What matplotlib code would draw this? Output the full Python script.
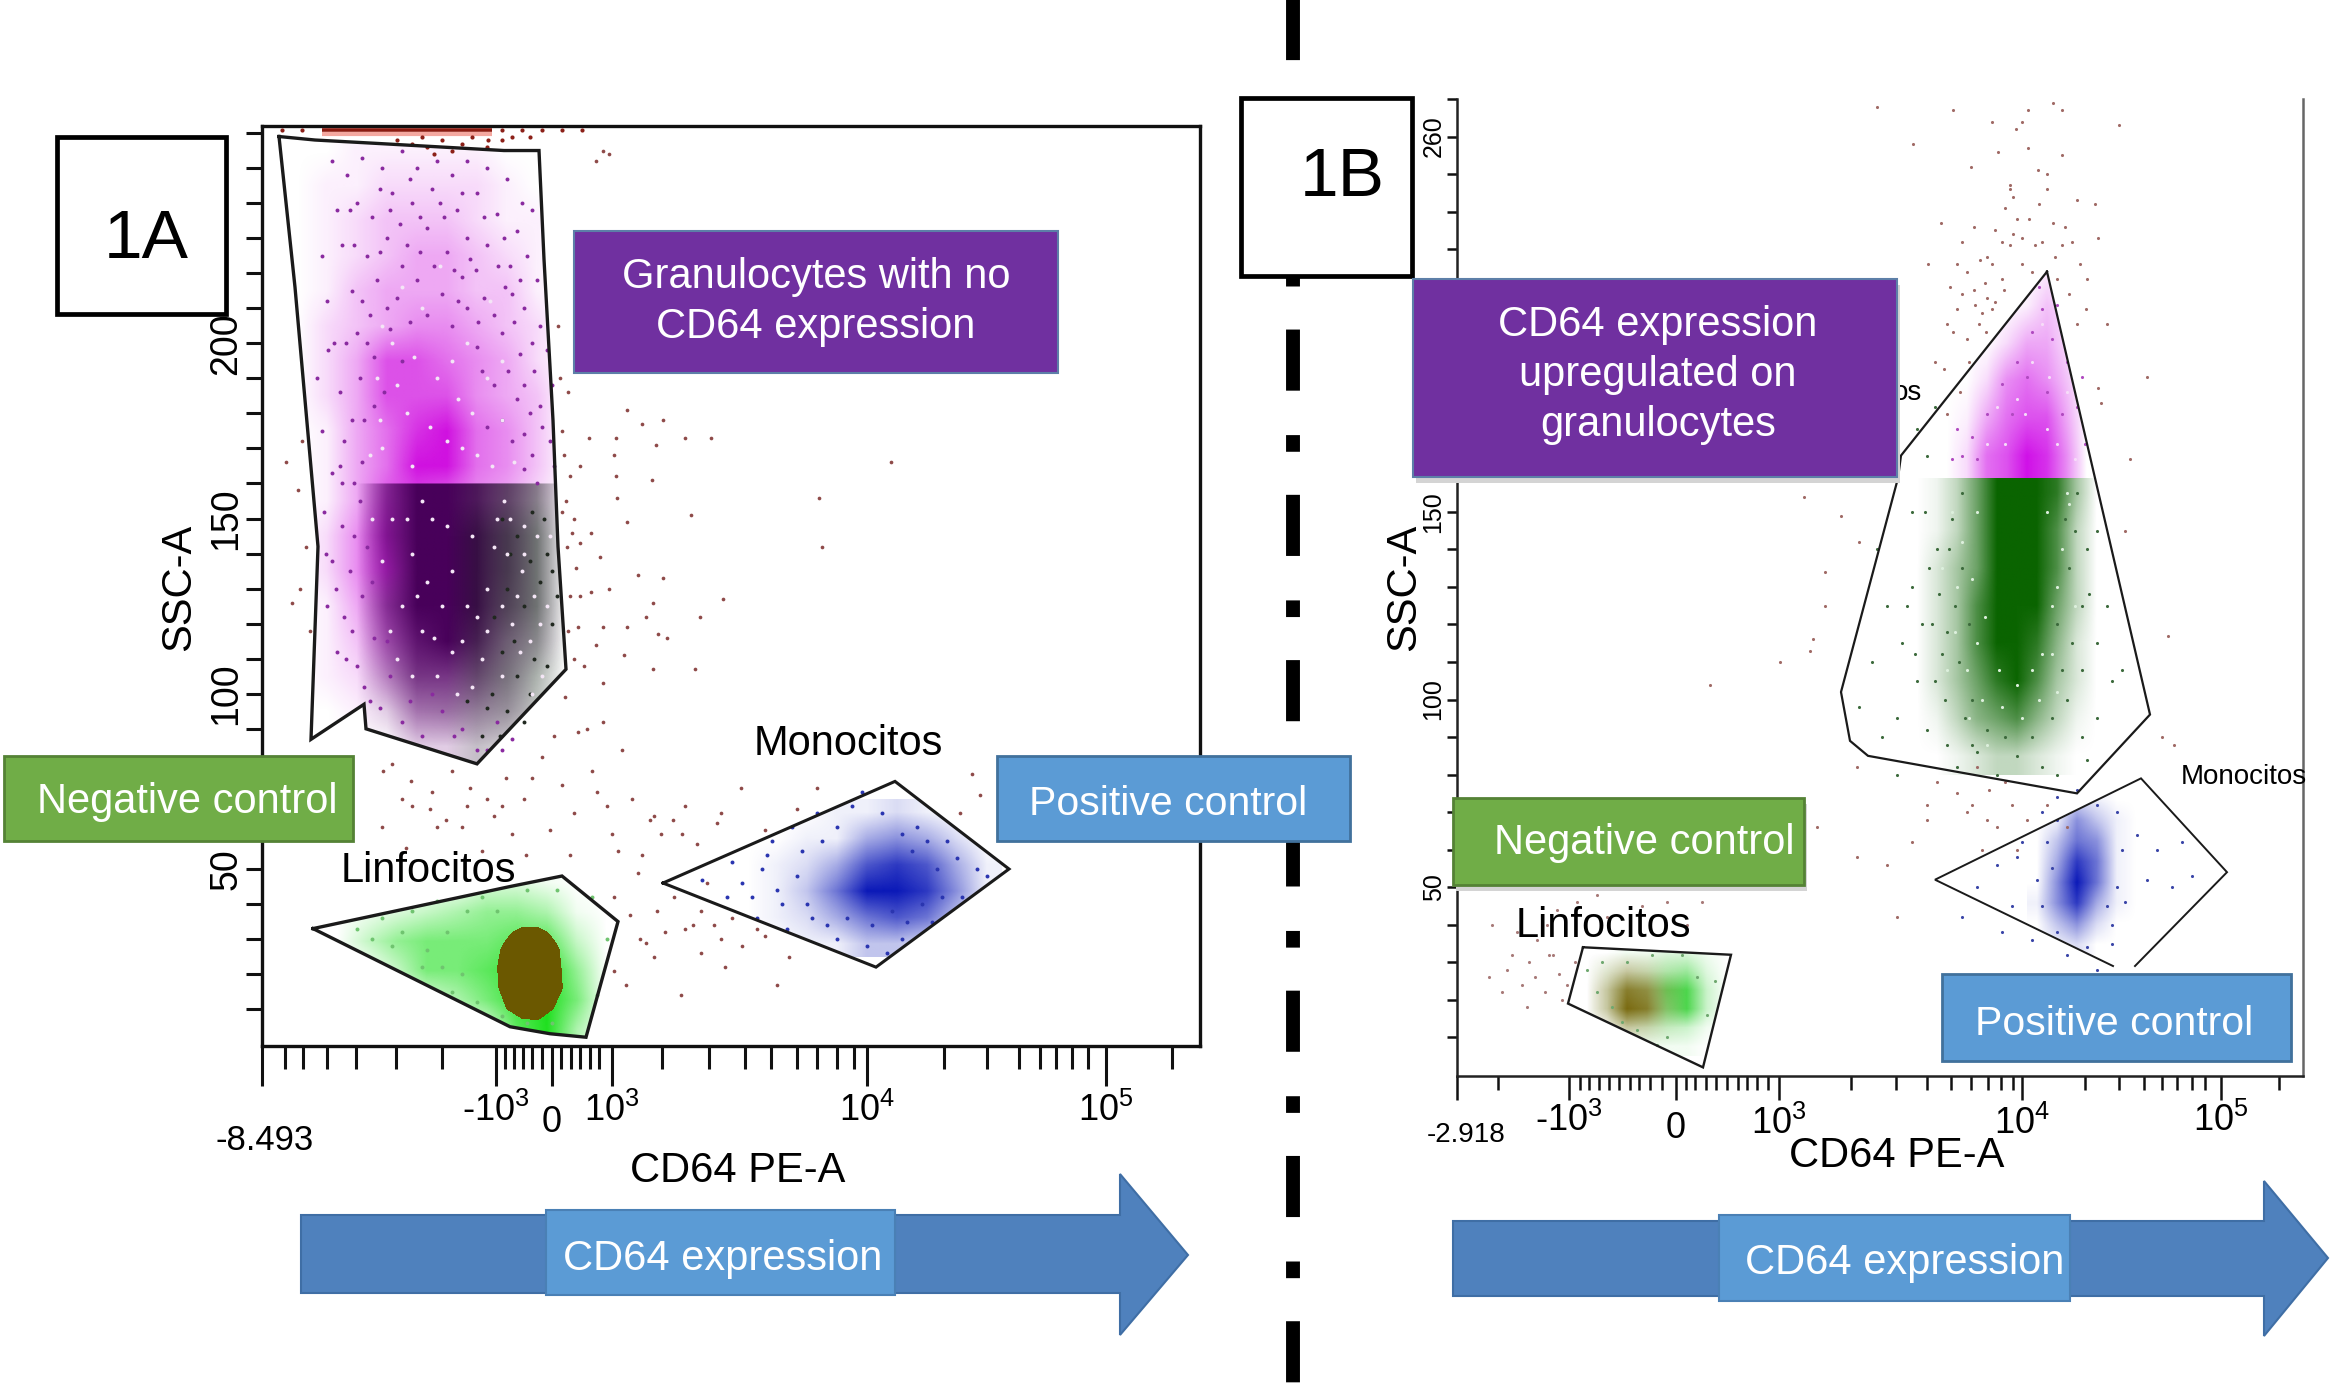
import numpy as np
import matplotlib
matplotlib.use("Agg")
import matplotlib.pyplot as plt
from matplotlib.colors import to_rgb
from matplotlib.patches import Rectangle, Polygon
from matplotlib.lines import Line2D
from matplotlib.transforms import ScaledTranslation

plt.rcParams['font.family'] = ['Liberation Sans', 'DejaVu Sans']
plt.rcParams['mathtext.default'] = 'regular'
plt.rcParams['lines.scale_dashes'] = False

W, H = 2334, 1391
# x is the biexponential display channel, y is SSC-A
a_xmajor = [0, 234, 290, 350, 605, 844]
a_xlabels = ['-8.493', '-$10^3$', '0', '$10^3$', '$10^4$', '$10^5$']
a_xminor = [23, 41, 65, 94, 134, 180, 243, 252, 261, 270, 280, 299, 309, 318, 328, 337, 400, 447, 483, 509,
            535, 555, 575, 592, 682, 725, 757, 778, 794, 810, 826, 910]
a_ylabels = ['50', '100', '150', '200']
a_ymajor = [50, 100, 150, 200]
b_xmajor = [0, 112, 219, 322, 565, 764]
b_xlabels = ['-2.918', '-$10^3$', '0', '$10^3$', '$10^4$', '$10^5$']
b_xminor = [41, 123, 132, 142, 152, 162, 173, 182, 193, 205, 229, 238, 249, 259, 270, 281, 290, 300, 311, 394,
            439, 470, 494, 514, 531, 544, 556, 628, 662, 687, 705, 720, 735, 748, 822]
b_ylabels = ['50', '100', '150', '260']
b_ymajor = [50, 100, 150, 250]
y_minor = [10, 20, 30, 40, 60, 70, 80, 90, 110, 120, 130, 140, 160, 170, 180, 190, 210, 220, 230, 240, 250, 260]

# gates
a_gate_gran = [(17, 259), (53, 258), (117, 257), (242, 255), (277, 255), (282, 224), (291, 178), (296, 142),
               (304, 107), (215, 80), (104, 90), (102, 97), (49, 87), (56, 142), (33, 216)]
a_gate_low = [(50, 160), (293, 160), (296, 142), (304, 107), (215, 80), (104, 90), (102, 97), (49, 87), (56, 142)]
a_gate_lymph = [(51, 33), (248, 45), (300, 48), (356, 35), (324, 2), (288, 3), (248, 5)]
a_gate_mono = [(401, 46), (633, 75), (747, 50), (614, 22)]
b_gate_gran = [(590, 214), (693, 96), (620, 75), (411, 85), (393, 89), (384, 102), (441, 159), (444, 165)]
b_gate_upper = [(444, 165), (590, 214), (638, 159), (441, 159)]
b_gate_lymph = [(126, 34), (274, 32), (246, 2), (111, 19)]
b_gate_mono = [(656, 29), (478, 52), (684, 79), (770, 54), (678, 29)]
a_top_band = (60, 230)

# estimated event density, 0-9, top row first
a_magenta = [[0, 0, 1, 1, 1, 1, 1, 0, 0, 0],
             [0, 1, 1, 2, 2, 2, 2, 1, 0, 0],
             [0, 1, 2, 3, 3, 3, 2, 1, 1, 0],
             [0, 1, 2, 3, 4, 4, 3, 2, 1, 0],
             [0, 1, 3, 4, 4, 4, 3, 3, 1, 0],
             [0, 2, 3, 4, 5, 5, 4, 3, 2, 0],
             [0, 2, 4, 7, 7, 6, 5, 4, 2, 0],
             [0, 2, 4, 7, 7, 7, 5, 4, 3, 0],
             [0, 1, 4, 6, 8, 9, 6, 5, 3, 0],
             [0, 1, 4, 6, 9, 9, 6, 5, 3, 0],
             [0, 1, 4, 7, 7, 6, 5, 4, 2, 0],
             [0, 2, 5, 8, 7, 5, 4, 3, 1, 0],
             [0, 2, 5, 8, 7, 5, 4, 3, 1, 0],
             [0, 1, 4, 6, 6, 5, 4, 3, 1, 0],
             [0, 1, 3, 5, 5, 4, 3, 2, 1, 0],
             [0, 1, 2, 3, 3, 3, 2, 1, 0, 0],
             [0, 0, 1, 1, 2, 2, 1, 1, 0, 0],
             [0, 0, 0, 0, 1, 1, 0, 0, 0, 0]]
a_dark = [[0, 6, 9, 9, 8, 5, 1, 0],
          [0, 6, 9, 9, 9, 6, 1, 0],
          [0, 5, 9, 9, 9, 6, 1, 0],
          [0, 6, 9, 9, 9, 5, 1, 0],
          [0, 5, 8, 9, 8, 4, 1, 0],
          [0, 4, 7, 7, 6, 3, 0, 0],
          [0, 2, 5, 5, 4, 2, 0, 0],
          [0, 0, 2, 2, 2, 1, 0, 0]]
a_black = [[0, 0, 0, 3, 5, 5, 0],
           [0, 0, 0, 4, 6, 6, 0],
           [0, 0, 0, 4, 6, 6, 0],
           [0, 0, 0, 4, 6, 6, 0],
           [0, 0, 0, 4, 5, 5, 0],
           [0, 0, 0, 4, 5, 4, 0],
           [0, 0, 1, 3, 4, 3, 0],
           [0, 0, 0, 2, 2, 1, 0]]
a_green = [[0, 0, 0, 0, 0, 0, 2, 2, 1, 0, 0],
           [0, 0, 1, 2, 3, 4, 5, 5, 4, 1, 0],
           [0, 0, 3, 5, 6, 6, 6, 7, 7, 3, 0],
           [0, 0, 0, 3, 6, 6, 7, 8, 9, 5, 0],
           [0, 0, 0, 0, 2, 4, 6, 8, 9, 6, 0],
           [0, 0, 0, 0, 0, 0, 2, 7, 9, 4, 0]]
a_core = [[0, 0, 0, 0, 0, 0],
          [0, 2, 5, 5, 2, 0],
          [0, 5, 9, 9, 5, 0],
          [1, 6, 9, 9, 6, 0],
          [0, 6, 9, 9, 6, 1],
          [0, 3, 7, 7, 3, 0],
          [0, 0, 0, 1, 0, 0]]
a_blue = [[0, 0, 0, 1, 1, 2, 1, 0, 0],
          [0, 0, 1, 1, 4, 5, 4, 2, 0],
          [0, 1, 2, 4, 7, 8, 7, 4, 1],
          [0, 1, 3, 6, 9, 9, 8, 5, 1],
          [0, 1, 2, 4, 6, 7, 6, 3, 0],
          [0, 0, 1, 1, 3, 3, 2, 1, 0]]
b_magenta = [[0, 0, 0, 0, 0, 1, 1, 0],
             [0, 0, 0, 0, 1, 3, 2, 0],
             [0, 0, 0, 2, 4, 4, 2, 0],
             [0, 0, 2, 5, 6, 5, 3, 0],
             [0, 1, 4, 6, 7, 7, 4, 0],
             [0, 2, 6, 7, 9, 8, 5, 0],
             [0, 2, 6, 7, 9, 8, 5, 0]]
b_darkgreen = [[0, 1, 3, 6, 9, 9, 9, 8, 4, 0],
               [0, 1, 3, 6, 9, 9, 9, 7, 3, 0],
               [0, 2, 4, 6, 9, 9, 9, 7, 3, 0],
               [0, 2, 4, 7, 9, 9, 9, 6, 3, 0],
               [0, 2, 4, 7, 9, 9, 8, 5, 2, 0],
               [0, 2, 4, 6, 8, 9, 7, 4, 2, 0],
               [0, 1, 3, 5, 6, 7, 5, 3, 1, 0],
               [0, 0, 1, 2, 3, 3, 2, 1, 0, 0]]
b_lgreen = [[0, 0, 1, 1, 2, 2, 1, 0],
            [0, 1, 1, 2, 4, 5, 2, 0],
            [0, 1, 2, 3, 7, 8, 3, 0],
            [0, 1, 2, 3, 6, 8, 3, 0],
            [0, 0, 1, 2, 3, 3, 1, 0],
            [0, 0, 0, 1, 1, 1, 0, 0]]
b_olive = [[0, 0, 0, 0, 0, 0, 0],
           [0, 2, 4, 3, 1, 0, 0],
           [0, 4, 8, 7, 3, 0, 0],
           [0, 4, 9, 8, 3, 0, 0],
           [0, 1, 4, 3, 1, 0, 0],
           [0, 0, 0, 0, 0, 0, 0]]
b_blue = [[0, 1, 2, 1, 0, 0],
          [0, 1, 5, 3, 1, 0],
          [0, 3, 6, 5, 1, 0],
          [0, 4, 8, 6, 1, 0],
          [0, 5, 9, 6, 1, 0],
          [1, 5, 8, 4, 1, 0],
          [0, 3, 5, 2, 0, 0],
          [0, 1, 2, 0, 0, 0]]

# individual events
a_stray = [(334, 252), (347, 254), (365, 181), (380, 177), (401, 178), (423, 173), (394, 171), (354, 173), (327, 173),
           (352, 168), (390, 161), (354, 162), (355, 156), (365, 149), (318, 165), (329, 146), (318, 143), (338, 139),
           (376, 134), (401, 133), (347, 130), (329, 129), (391, 126), (384, 122), (316, 119), (341, 119), (365, 119),
           (396, 117), (405, 116), (334, 114), (362, 111), (391, 107), (433, 107), (341, 103), (303, 99), (341, 92),
           (316, 89), (449, 173), (557, 156), (629, 166), (560, 142), (429, 151), (461, 127), (438, 122), (341, 255),
           (121, 78), (149, 75), (208, 73), (244, 76), (312, 66), (288, 61), (232, 65), (184, 64), (168, 67), (144, 56),
           (264, 54), (308, 54), (356, 55), (380, 54), (376, 49), (352, 42), (368, 37), (392, 65), (423, 68), (479, 73),
           (555, 73), (459, 66), (388, 64), (411, 64), (399, 60), (435, 57), (455, 63), (503, 61), (535, 67), (710, 77),
           (718, 71), (698, 66), (439, 38), (431, 34), (403, 32), (423, 33), (459, 30), (495, 33), (503, 31), (384, 29),
           (392, 25), (439, 26), (463, 22), (515, 17), (419, 14), (527, 25), (364, 17), (352, 21), (305, 142), (312, 150),
           (308, 128), (314, 136), (300, 175), (306, 186), (302, 168), (44, 142), (38, 130), (48, 118), (30, 126),
           (36, 158), (40, 172), (24, 166), (130, 80), (170, 72), (190, 78), (225, 70), (150, 68), (200, 62), (262, 70),
           (280, 82), (330, 78), (345, 68), (360, 84), (325, 90), (300, 74), (120, 62), (250, 60), (220, 55),
           (308, 162), (304, 155), (310, 146), (306, 118), (312, 110), (298, 190), (296, 205), (300, 152), (318, 128),
           (322, 108), (292, 88), (270, 76), (240, 68), (205, 68), (175, 62), (140, 70), (335, 72), (350, 60), (370, 70),
           (420, 60), (445, 46), (470, 36), (480, 28), (452, 34), (412, 42), (395, 38), (378, 30)]
a_top = [(20, 261), (40, 261), (240, 261), (260, 261), (280, 261), (300, 261), (320, 261), (150, 257), (165, 256),
         (180, 258), (200, 257), (135, 258), (240, 258), (225, 256), (160, 259), (172, 254), (190, 255), (210, 259),
         (250, 259), (268, 259), (226, 258)]
a_gran_dots = [(70, 252), (85, 248), (100, 253), (120, 250), (140, 255), (155, 250), (175, 252), (190, 248), (205, 252),
               (225, 250), (245, 247), (260, 240), (75, 238), (95, 240), (110, 236), (130, 243), (150, 240), (170, 244),
               (195, 238), (215, 243), (235, 237), (255, 232), (270, 238), (60, 225), (80, 228), (105, 225), (125, 230),
               (145, 228), (165, 233), (185, 226), (205, 230), (225, 228), (248, 222), (265, 225), (275, 218), (65, 212),
               (90, 215), (115, 218), (135, 213), (155, 218), (180, 214), (200, 219), (222, 213), (243, 216), (262, 210),
               (278, 205), (72, 200), (95, 203), (112, 196), (128, 204), (190, 205), (215, 199), (240, 203), (258, 197),
               (272, 192), (285, 198), (55, 190), (78, 186), (98, 190), (232, 188), (255, 184), (278, 182), (290, 188),
               (60, 175), (82, 172), (102, 178), (250, 172), (270, 168), (288, 172), (70, 163), (92, 160), (275, 160),
               (292, 165), (62, 152), (80, 148), (98, 155), (70, 138), (88, 135), (105, 142), (65, 125), (82, 122),
               (100, 128), (75, 112), (95, 108), (112, 116), (128, 105), (118, 96), (140, 92), (160, 88), (180, 95),
               (200, 90), (215, 84), (235, 92), (250, 87), (88, 238), (118, 244), (158, 236), (182, 236), (208, 224),
               (140, 222), (172, 222), (108, 208), (148, 206), (205, 210), (232, 208), (252, 206), (122, 186), (84, 200),
               (66, 198), (268, 180), (240, 178), (80, 160), (64, 140), (90, 118), (108, 98), (128, 238), (148, 247),
               (178, 240), (200, 243), (222, 236), (242, 230), (92, 228), (118, 226), (138, 234), (158, 226), (192, 221),
               (214, 221), (236, 222), (258, 218), (100, 212), (125, 210), (165, 208), (196, 212), (216, 206), (250, 214),
               (270, 200), (105, 200), (140, 195), (220, 192), (246, 192), (262, 188), (90, 178), (112, 182), (225, 176),
               (262, 174), (280, 176), (78, 165), (100, 166), (262, 164), (74, 130), (92, 145), (110, 132), (84, 110),
               (102, 102), (125, 115), (148, 98), (170, 100), (192, 88), (225, 84), (240, 84)]
a_black_dots = [(240, 150), (255, 145), (270, 152), (285, 140), (245, 130), (262, 125), (278, 132), (290, 120), (240, 112),
                (255, 105), (272, 110), (230, 100), (245, 95), (262, 92), (220, 88), (205, 98), (285, 108), (295, 128),
                (232, 122), (248, 140), (268, 138), (282, 150), (252, 115), (268, 100), (238, 88), (225, 96), (290, 135)]
a_white_dots = [(130, 150), (150, 140), (170, 150), (190, 135), (210, 145), (225, 130), (140, 125), (160, 118), (180, 125),
                (200, 115), (220, 110), (245, 140), (260, 135), (275, 145), (285, 125), (250, 120), (268, 115), (150, 105),
                (175, 105), (195, 100), (130, 200), (160, 210), (190, 195), (145, 180), (175, 190), (210, 180), (120, 170),
                (150, 165), (200, 170), (230, 165), (240, 195), (115, 190), (235, 150), (255, 128), (270, 100), (240, 105),
                (165, 132), (205, 125), (232, 142), (262, 148), (278, 120), (135, 110), (118, 178), (135, 188), (152, 196),
                (168, 176), (185, 172), (196, 184), (215, 168), (225, 190), (240, 178), (252, 166), (108, 168), (120, 205),
                (140, 216), (178, 222), (205, 200), (228, 212), (248, 150), (272, 128), (288, 145), (258, 112), (240, 125),
                (215, 122), (190, 112), (172, 116), (155, 128), (145, 150), (185, 148), (160, 155), (120, 138), (110, 150),
                (128, 118), (210, 102), (225, 118), (280, 105), (262, 140), (242, 155)]
a_blue_dots = [(440, 47), (465, 42), (470, 52), (495, 36), (500, 50), (510, 58), (525, 33), (530, 62), (545, 40), (555, 66),
               (575, 30), (590, 68), (605, 28), (620, 66), (640, 30), (655, 62), (670, 35), (685, 58), (700, 42), (715, 50),
               (695, 53), (660, 40), (565, 34), (540, 55), (515, 44), (480, 46), (640, 60), (600, 72), (625, 26), (725, 48),
               (490, 42), (505, 54), (520, 40), (535, 48), (550, 36), (560, 58), (575, 62), (585, 36), (610, 34), (630, 38),
               (645, 35), (675, 50), (680, 42), (650, 55), (665, 58)]
a_green_dots = [(95, 33), (120, 36), (130, 28), (150, 38), (165, 27), (175, 41), (200, 20), (220, 42), (190, 15), (215, 12),
                (240, 8), (265, 6), (290, 6), (335, 14), (345, 30), (330, 42), (295, 44), (265, 44), (110, 30), (140, 32),
                (160, 22), (185, 32), (205, 38), (235, 38), (180, 22)]
b_stray = [(420, 258), (496, 257), (571, 257), (596, 259), (605, 257), (456, 248), (535, 254), (565, 254), (559, 252),
           (662, 253), (541, 246), (571, 247), (605, 245), (514, 242), (581, 241), (590, 240), (553, 237), (556, 234),
           (590, 236), (620, 233), (638, 232), (484, 227), (517, 226), (538, 225), (565, 223), (596, 227), (608, 226),
           (641, 223), (605, 221), (578, 221), (553, 221), (523, 217), (535, 216), (471, 216), (623, 216), (565, 216),
           (547, 209), (517, 209), (505, 208), (535, 204), (529, 198), (629, 204), (620, 200), (496, 198), (487, 188),
           (641, 183), (644, 179), (690, 186), (673, 164), (347, 154), (384, 149), (402, 142), (368, 134), (368, 125),
           (356, 116), (353, 113), (323, 110), (253, 104), (668, 145), (711, 117), (717, 88), (705, 90), (553, 236),
           (548, 231), (545, 212), (530, 207), (525, 203), (522, 200), (510, 214), (500, 204), (560, 228), (575, 214),
           (585, 222), (600, 212), (612, 208), (530, 218), (545, 222), (505, 222), (510, 196), (493, 210), (490, 176),
           (520, 82), (532, 76), (548, 78), (500, 75), (510, 70), (480, 78), (470, 68), (540, 66), (560, 60), (525, 60),
           (590, 72), (610, 66), (455, 62), (430, 56), (400, 58), (440, 42), (360, 66), (345, 58), (400, 82), (470, 72),
           (528, 211), (538, 206), (518, 205), (512, 190), (503, 182), (556, 224), (572, 228), (582, 232), (598, 218),
           (615, 222), (630, 212), (650, 200), (500, 216), (490, 200), (478, 190), (515, 72), (530, 68), (555, 72), (570, 68)]
b_gran_dots = [(420, 140), (430, 125), (415, 110), (402, 98), (440, 95), (425, 90), (455, 130), (445, 115), (460, 105),
               (470, 92), (480, 140), (475, 120), (468, 150), (455, 150), (488, 100), (500, 82), (520, 86), (540, 80),
               (560, 85), (585, 82), (600, 80), (625, 90), (640, 95), (655, 105), (640, 115), (625, 125), (630, 140),
               (620, 155), (650, 125), (665, 108), (640, 145), (470, 165), (478, 178), (460, 172), (495, 148), (498, 125),
               (485, 112), (508, 95), (610, 100), (600, 120), (612, 135), (440, 80), (490, 88), (630, 84), (472, 135),
               (482, 128), (492, 140), (505, 155), (502, 110), (490, 118), (478, 105), (465, 120), (458, 112), (450, 125),
               (515, 100), (512, 120), (505, 135), (618, 145), (632, 128), (605, 108), (595, 95), (615, 115), (608, 148),
               (625, 108), (575, 90), (548, 90), (530, 92), (515, 88)]
b_green_white = [(495, 150), (505, 142), (515, 132), (498, 118), (510, 108), (525, 100), (530, 88), (512, 95), (545, 98),
                 (565, 95), (582, 100), (595, 112), (600, 130), (590, 150), (605, 140), (595, 125), (585, 112), (500, 130),
                 (520, 150), (612, 152), (520, 115), (575, 108), (560, 104), (542, 108), (528, 122), (600, 102), (490, 108),
                 (485, 135), (618, 125), (610, 155)]
b_magenta_dots = [(585, 204), (575, 198), (595, 196), (560, 190), (545, 184), (610, 190), (530, 176), (620, 178), (515, 170),
                  (628, 168), (505, 165), (500, 172), (600, 205), (582, 210), (625, 186), (570, 186), (590, 182), (605, 176),
                  (555, 176), (520, 164), (495, 164)]
b_magenta_white = [(575, 190), (592, 186), (560, 180), (600, 168), (548, 168), (610, 182), (530, 168), (585, 200), (568, 176),
                   (590, 172), (618, 164), (540, 178)]
b_mono_dots = [(520, 50), (540, 56), (555, 45), (565, 62), (575, 36), (585, 70), (600, 74), (610, 32), (620, 76), (640, 72),
               (655, 35), (680, 64), (690, 52), (700, 60), (715, 50), (668, 46), (585, 45), (600, 38), (505, 42), (545, 38),
               (640, 28), (660, 70), (735, 53), (725, 62), (560, 58), (590, 62), (595, 55), (580, 52), (660, 50), (665, 60),
               (650, 45), (600, 68), (655, 40), (630, 34)]
b_lymph_dots = [(130, 28), (145, 30), (155, 18), (170, 30), (180, 12), (195, 32), (210, 10), (225, 32), (240, 26), (250, 16),
                (258, 25), (140, 22), (165, 14), (200, 8)]
b_lymph_stray = [(32, 26), (45, 22), (55, 32), (65, 24), (72, 30), (80, 36), (88, 22), (96, 32), (102, 27), (110, 24),
                 (118, 30), (70, 18), (90, 40), (60, 38), (35, 40), (100, 44), (120, 46), (140, 48), (160, 52), (185, 50),
                 (210, 46), (245, 46), (230, 40), (250, 50), (185, 45), (150, 42), (50, 28), (78, 26), (92, 32), (105, 20)]


def axes_px(left, top, right, bottom):
    return fig.add_axes([left / W, 1 - bottom / H, (right - left) / W, (bottom - top) / H])


def wash(ax, grid, x0, x1, y0, y1, color, clip=None, z=2):
    a = np.array(grid, float) / 9
    rgba = np.zeros(a.shape + (4,))
    rgba[..., :3] = to_rgb(color)
    rgba[..., 3] = a ** 1.25
    im = ax.imshow(rgba, extent=(x0, x1, y0, y1), origin='upper', interpolation='bilinear', aspect='auto', zorder=z)
    if clip is not None:
        im.set_clip_path(Polygon(clip, closed=True, transform=ax.transData))
    return im


def dots(ax, pts, color, s=8, z=3):
    arr = np.array(pts, float)
    ax.scatter(arr[:, 0], arr[:, 1], s=s, c=color, linewidths=0, zorder=z, clip_on=False)


def gate(ax, pts, lw, closed=True):
    arr = np.array(pts, float)
    if closed:
        arr = np.vstack([arr, arr[0]])
    ax.plot(arr[:, 0], arr[:, 1], color='#1a1a1a', lw=lw, zorder=6, solid_joinstyle='miter')


def style_axes(ax, xlim, ylim, xmajor, xlabels, xminor, ymajor, ylabels, xlong, xshort, ylen, tw, fs_x, fs_y, pads):
    ax.set_xlim(*xlim)
    ax.set_ylim(*ylim)
    ax.set_xticks(xmajor)
    ax.set_xticklabels(xlabels, fontsize=fs_x)
    ax.set_xticks(xminor, minor=True)
    ax.set_yticks(ymajor)
    ax.set_yticklabels(ylabels, fontsize=fs_y, rotation=90, va='center')
    ax.set_yticks(y_minor, minor=True)
    ax.tick_params(axis='x', which='major', length=xlong * 0.72, width=tw, color='#111111')
    ax.tick_params(axis='x', which='minor', length=xshort * 0.72, width=tw, color='#111111')
    ax.tick_params(axis='y', which='both', length=ylen * 0.72, width=tw, color='#111111', pad=1)
    for t, p in zip(ax.xaxis.get_major_ticks(), pads):
        t.set_pad(p)


fig = plt.figure(figsize=(W / 100, H / 100), dpi=100, facecolor='white')

# ---------- panel A
axa = axes_px(262, 126, 1200, 1046)
wash(axa, a_magenta, 20, 320, 80, 260, '#d010e0', clip=a_gate_gran)
wash(axa, a_dark, 80, 320, 80, 160, '#48005a', clip=a_gate_low)
wash(axa, a_black, 110, 320, 80, 160, '#1a2a1e', clip=a_gate_low)
wash(axa, a_green, 30, 360, 0, 50, '#1fe01f', clip=a_gate_lymph)
core_x = [228, 244, 260, 276, 292, 308]
core_y = [36, 32, 27, 22, 16, 10, 5]
axa.contourf(core_x, core_y, a_core, levels=[3.4, 100], colors=['#6b5800'], zorder=4)
wash(axa, a_blue, 470, 740, 25, 70, '#0a18b8', clip=a_gate_mono)
dots(axa, a_gran_dots, '#8a2aa0')
dots(axa, a_black_dots, '#20281f')
dots(axa, a_white_dots, '#f4e6f6', s=8)
dots(axa, a_stray, '#8e4a48', s=7)
dots(axa, a_top, '#8c2018', s=9)
axa.hlines(261, a_top_band[0], a_top_band[1], color='#8c1a10', lw=2.6, zorder=7, clip_on=False)
axa.hlines(259.6, a_top_band[0], a_top_band[1], color='#f4a8a0', lw=3, zorder=2)
dots(axa, a_blue_dots, '#2a35b0')
dots(axa, a_green_dots, '#6fc46f')
gate(axa, a_gate_gran, 2.4)
gate(axa, a_gate_lymph, 2.4)
gate(axa, a_gate_mono, 2.2)
style_axes(axa, (0, 938), (-0.5, 262), a_xmajor, a_xlabels, a_xminor, a_ymajor, a_ylabels,
           40, 23, 16, 2.2, 26, 27, [27, 5, 14, 5, 5, 5])
for s in axa.spines.values():
    s.set_linewidth(2.4)
    s.set_color('#111111')

# ---------- panel B
axb = axes_px(1457, 99, 2303, 1076)
wash(axb, b_magenta, 480, 640, 150, 220, '#d010e8', clip=b_gate_upper, z=2)
wash(axb, b_darkgreen, 450, 650, 80, 160, '#0a6400', clip=[(400, 80), (700, 80), (700, 159), (400, 159)], z=3)
wash(axb, b_lgreen, 120, 280, 5, 35, '#30d030', clip=b_gate_lymph)
wash(axb, b_olive, 120, 260, 5, 35, '#7a6a10', clip=b_gate_lymph)
wash(axb, b_blue, 570, 690, 32, 76, '#0a18b8', clip=b_gate_mono)
dots(axb, b_gran_dots, '#3c6a3c', s=5, z=4)
dots(axb, b_green_white, '#dcefdc', s=5, z=4)
dots(axb, b_magenta_dots, '#b04ac0', s=5, z=4)
dots(axb, b_magenta_white, '#f6dcf8', s=5, z=4)
dots(axb, b_stray, '#a06a66', s=5, z=4)
dots(axb, b_mono_dots, '#3a45a8', s=5, z=4)
dots(axb, b_lymph_dots, '#6fa86f', s=5, z=4)
dots(axb, b_lymph_stray, '#a87a78', s=5, z=4)
gate(axb, b_gate_gran, 1.6)
gate(axb, b_gate_lymph, 1.7)
gate(axb, b_gate_mono, 1.4, closed=False)
style_axes(axb, (0, 846), (-0.3, 258.5), b_xmajor, b_xlabels, b_xminor, b_ymajor, b_ylabels,
           24, 14, 10, 1.8, 26, 18, [16, 2, 8, 4, 4, 2])
axb.spines['top'].set_visible(False)
for s in ('left', 'bottom'):
    axb.spines[s].set_linewidth(1.8)
    axb.spines[s].set_color('#222222')
axb.spines['right'].set_linewidth(1.8)
axb.spines['right'].set_color('#666666')
fig.canvas.draw()
first_b = axb.xaxis.get_major_ticks()[0].label1
first_b.set_fontsize(20)
first_b.set_transform(first_b.get_transform() + ScaledTranslation(9 / 100, 0, fig.dpi_scale_trans))
first_a = axa.xaxis.get_major_ticks()[0].label1
first_a.set_fontsize(25)
first_a.set_transform(first_a.get_transform() + ScaledTranslation(3 / 100, 0, fig.dpi_scale_trans))

# ---------- annotation layer in figure pixels
ov = fig.add_axes([0, 0, 1, 1], zorder=10)
ov.set_xlim(0, W)
ov.set_ylim(H, 0)
ov.axis('off')
ov.patch.set_alpha(0)


def box(x0, y0, x1, y1, face, edge, lw=1.5, z=3, shadow=False):
    if shadow:
        ov.add_patch(Rectangle((x0 + 3, y0 + 6), x1 - x0, y1 - y0, facecolor='#d4d4d4', edgecolor='none', zorder=z - 0.5))
    ov.add_patch(Rectangle((x0, y0), x1 - x0, y1 - y0, facecolor=face, edgecolor=edge, linewidth=lw, zorder=z))


def label(x, y, s, size, color='black', rot=0, z=5, ha='center', ls=1.2):
    ov.text(x, y, s, fontsize=size, color=color, rotation=rot, ha=ha, va='center', zorder=z, linespacing=ls)


# divider
ov.add_line(Line2D([1293, 1293], [-3, H], color='black', lw=10, dashes=(44, 32, 12, 31), dash_capstyle='butt', zorder=1))

# arrows
for xs, xh, xt, ys0, ys1, yh0, yh1, ym in [(301, 1120, 1188, 1215, 1293, 1174, 1335, 1255),
                                           (1453, 2264, 2328, 1221, 1296, 1181, 1336, 1258)]:
    ov.add_patch(Polygon([(xs, ys0), (xh, ys0), (xh, yh0), (xt, ym), (xh, yh1), (xh, ys1), (xs, ys1)], closed=True,
                         facecolor='#4f81bd', edgecolor='#3f6ea5', linewidth=1.5, zorder=2))
box(546, 1210, 895, 1295, '#5b9bd5', '#4a80b5')
box(1719, 1215, 2070, 1301, '#5b9bd5', '#4a80b5')
label(723, 1259, 'CD64 expression', 30, 'white')
label(1905, 1263, 'CD64 expression', 30, 'white')

# panel tags
box(57, 137, 226, 314, 'white', 'black', lw=3.4, z=3)
box(1241, 98, 1412, 276, 'white', 'black', lw=3.4, z=3)
label(146, 240, '1A', 50)
label(1342, 178, '1B', 50)

# the visible end of a population name, the rest lies under the purple box of panel B
label(1922, 393, 'os', 20, z=2, ha='right')

# call-outs
box(574, 231, 1058, 373, '#7030a0', '#5d7fa8')
box(1413, 279, 1897, 477, '#7030a0', '#5d7fa8', shadow=True)
label(816, 302, 'Granulocytes with no\nCD64 expression', 30, 'white', ls=1.31)
label(1658, 375, 'CD64 expression\nupregulated on\ngranulocytes', 30, 'white', ls=1.31)
box(4, 756, 353, 841, '#70ad47', '#548235', lw=2)
box(1453, 798, 1804, 885, '#70ad47', '#548235', lw=2, shadow=True)
label(187, 802, 'Negative control', 30, 'white')
label(1644, 843, 'Negative control', 30, 'white')
box(997, 756, 1350, 841, '#5b9bd5', '#41719c', lw=2)
box(1942, 974, 2291, 1061, '#5b9bd5', '#41719c', lw=2)
label(1168, 804, 'Positive control', 29.5, 'white')
label(2114, 1024, 'Positive control', 29.5, 'white')

# axis titles and population names
label(179, 587, 'SSC-A', 30, rot=90)
label(1404, 587, 'SSC-A', 30, rot=90)
label(738, 1171, 'CD64 PE-A', 30)
label(1897, 1156, 'CD64 PE-A', 30)
label(428, 871, 'Linfocitos', 30)
label(1603, 926, 'Linfocitos', 30)
label(848, 744, 'Monocitos', 30)
label(2244, 777, 'Monocitos', 20)

fig.savefig('out.png', dpi=100, facecolor='white')
